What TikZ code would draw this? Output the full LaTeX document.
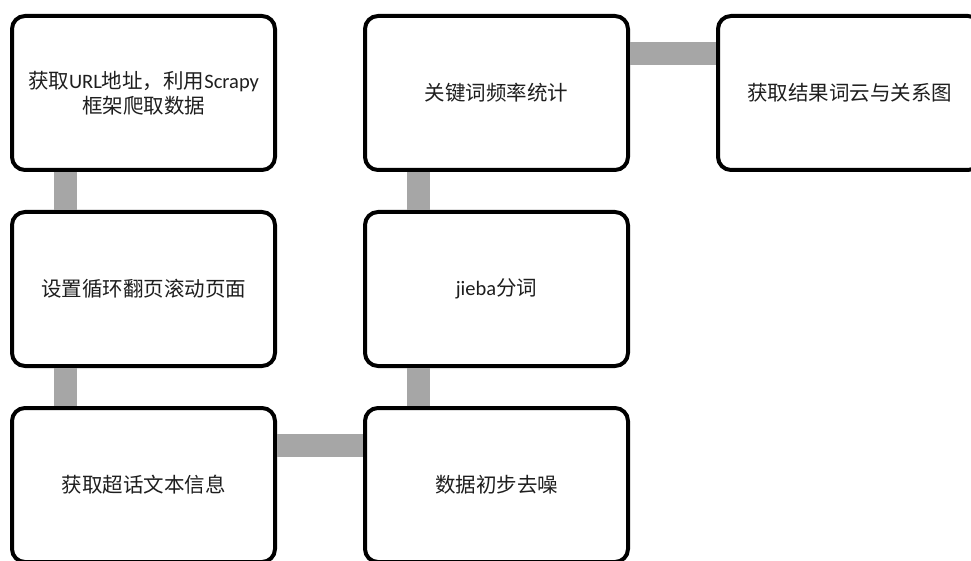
\documentclass[tikz,border=0pt]{standalone}
\usepackage{fontspec}
\setmainfont{Carlito}
\newfontfamily\cjk{Noto Sans CJK SC}
\definecolor{conngray}{RGB}{166,166,166}
\definecolor{txt}{RGB}{30,30,30}
\tikzset{
  stepbox/.style={draw=black, fill=white, line width=4pt, rounded corners=13pt,
    minimum width=263pt, minimum height=154pt, align=center, text=txt,
    font=\fontsize{20.5}{25}\selectfont},
  conn/.style={draw=conngray, line width=23pt}
}
\begin{document}
\begin{tikzpicture}[x=1pt,y=-1pt]
\useasboundingbox (0,0) rectangle (971,561);
\clip (0,0) rectangle (971,561);
\node[stepbox] (b1) at (143.5,93) {{\cjk 获取}URL{\cjk 地址，利用}Scrapy\\{\cjk 框架爬取数据}};
\node[stepbox] (b2) at (143.5,289) {\cjk 设置循环翻页滚动页面};
\node[stepbox] (b3) at (143.5,485) {\cjk 获取超话文本信息};
\node[stepbox] (b4) at (496.5,485) {\cjk 数据初步去噪};
\node[stepbox] (b5) at (496.5,289) {jieba{\cjk 分词}};
\node[stepbox] (b6) at (496.5,93) {\cjk 关键词频率统计};
\node[stepbox] (b7) at (849.5,93) {\cjk 获取结果词云与关系图};
\begin{scope}[on background layer/.style={}]
\end{scope}
\path[conn] ([xshift=-78.5pt]b1.south) -- ([xshift=-78.5pt]b2.north);
\path[conn] ([xshift=-78.5pt]b2.south) -- ([xshift=-78.5pt]b3.north);
\path[conn] ([yshift=39.5pt]b3.east) -- ([yshift=39.5pt]b4.west);
\path[conn] ([xshift=-78pt]b4.north) -- ([xshift=-78pt]b5.south);
\path[conn] ([xshift=-78pt]b5.north) -- ([xshift=-78pt]b6.south);
\path[conn] ([yshift=39.5pt]b6.east) -- ([yshift=39.5pt]b7.west);
\end{tikzpicture}
\end{document}
